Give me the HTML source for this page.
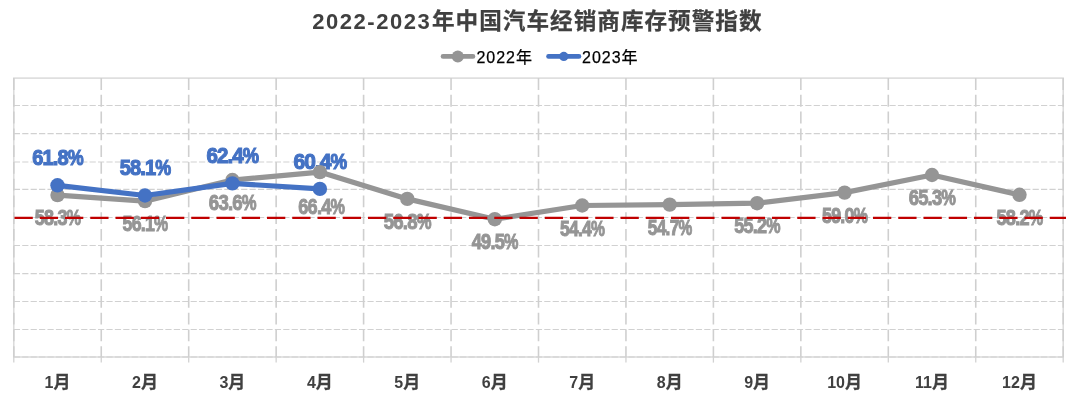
<!DOCTYPE html>
<html lang="zh-CN"><head><meta charset="utf-8">
<title>2022-2023年中国汽车经销商库存预警指数</title>
<style>
html,body{margin:0;padding:0;background:#fff;}
body{width:1080px;height:411px;overflow:hidden;font-family:"Liberation Sans","Noto Sans CJK SC",sans-serif;}
svg{display:block;}
.title{font-family:"Liberation Sans","Noto Sans CJK SC",sans-serif;font-weight:700;font-size:22px;letter-spacing:1.55px;fill:#404040;}
.tcjk{font-size:22.6px;letter-spacing:1.02px;stroke:#404040;stroke-width:.25px;}
.leg{font-family:"Liberation Sans","Noto Sans CJK SC",sans-serif;font-size:16px;letter-spacing:.95px;fill:#000;stroke:#000;stroke-width:.25px;}
.ax{font-family:"Liberation Sans","Noto Sans CJK SC",sans-serif;font-weight:700;font-size:16px;fill:#404040;text-anchor:middle;}
.acjk{font-size:17px;stroke:#404040;stroke-width:.3px;}
.lb{font-family:"Liberation Sans",sans-serif;font-weight:700;text-anchor:middle;stroke-linejoin:miter;}
.b{font-size:22.9px;letter-spacing:-1px;fill:#4472c4;stroke:#4472c4;stroke-width:1.2px;}
.g{font-size:21.6px;letter-spacing:-.9px;fill:#959595;stroke:#959595;stroke-width:1px;}
</style></head><body>
<svg width="1080" height="411" viewBox="0 0 1080 411">
<rect width="1080" height="411" fill="#fff"/>
<text class="title" x="312.2" y="28.8">2022-2023<tspan class="tcjk" dx="0.6">年中国汽车经销商库存预警指数</tspan></text>
<g>
<line x1="443" y1="56.4" x2="473" y2="56.4" stroke="#959595" stroke-width="4.6" stroke-linecap="round"/>
<circle cx="457.8" cy="56.4" r="6" fill="#959595"/>
<text class="leg" x="476.5" y="62.8">2022年</text>
<line x1="548.5" y1="56.4" x2="579" y2="56.4" stroke="#4472c4" stroke-width="4.6" stroke-linecap="round"/>
<circle cx="563.8" cy="56.4" r="4.6" fill="#4472c4"/>
<text class="leg" x="582.1" y="62.8">2023年</text>
</g>
<g fill="none" stroke="#cdcdcd">
<rect x="13.8" y="78.1" width="1049.4" height="278.9" stroke="#dadada" stroke-width="1.5"/>
<line x1="13.8" y1="105.50" x2="1063.2" y2="105.50" stroke-width="1.2" stroke="#d1d1d1" stroke-dasharray="6.2 2.22"/>
<line x1="13.8" y1="133.60" x2="1063.2" y2="133.60" stroke-width="1.2" stroke="#d1d1d1" stroke-dasharray="6.2 2.22"/>
<line x1="13.8" y1="162.00" x2="1063.2" y2="162.00" stroke-width="1.2" stroke="#d1d1d1" stroke-dasharray="6.2 2.22"/>
<line x1="13.8" y1="189.40" x2="1063.2" y2="189.40" stroke-width="1.2" stroke="#d1d1d1" stroke-dasharray="6.2 2.22"/>
<line x1="13.8" y1="217.50" x2="1063.2" y2="217.50" stroke-width="1.2" stroke="#d1d1d1" stroke-dasharray="6.2 2.22"/>
<line x1="13.8" y1="245.50" x2="1063.2" y2="245.50" stroke-width="1.2" stroke="#d1d1d1" stroke-dasharray="6.2 2.22"/>
<line x1="13.8" y1="273.60" x2="1063.2" y2="273.60" stroke-width="1.2" stroke="#d1d1d1" stroke-dasharray="6.2 2.22"/>
<line x1="13.8" y1="301.50" x2="1063.2" y2="301.50" stroke-width="1.2" stroke="#d1d1d1" stroke-dasharray="6.2 2.22"/>
<line x1="13.8" y1="329.50" x2="1063.2" y2="329.50" stroke-width="1.2" stroke="#d1d1d1" stroke-dasharray="6.2 2.22"/>
<line x1="13.8" y1="357.00" x2="1063.2" y2="357.00" stroke-width="1.2" stroke="#d1d1d1" stroke-dasharray="6.2 2.22"/>
<line x1="13.80" y1="78.1" x2="13.80" y2="357" stroke-width="1.6" stroke="#cfcfcf" stroke-dasharray="11.8 4.96"/>
<line x1="13.80" y1="357" x2="13.80" y2="362.6" stroke-width="1.3" stroke="#d2d2d2"/>
<line x1="101.25" y1="78.1" x2="101.25" y2="357" stroke-width="1.6" stroke="#cfcfcf" stroke-dasharray="11.8 4.96"/>
<line x1="101.25" y1="357" x2="101.25" y2="362.6" stroke-width="1.3" stroke="#d2d2d2"/>
<line x1="188.70" y1="78.1" x2="188.70" y2="357" stroke-width="1.6" stroke="#cfcfcf" stroke-dasharray="11.8 4.96"/>
<line x1="188.70" y1="357" x2="188.70" y2="362.6" stroke-width="1.3" stroke="#d2d2d2"/>
<line x1="276.15" y1="78.1" x2="276.15" y2="357" stroke-width="1.6" stroke="#cfcfcf" stroke-dasharray="11.8 4.96"/>
<line x1="276.15" y1="357" x2="276.15" y2="362.6" stroke-width="1.3" stroke="#d2d2d2"/>
<line x1="363.60" y1="78.1" x2="363.60" y2="357" stroke-width="1.6" stroke="#cfcfcf" stroke-dasharray="11.8 4.96"/>
<line x1="363.60" y1="357" x2="363.60" y2="362.6" stroke-width="1.3" stroke="#d2d2d2"/>
<line x1="451.05" y1="78.1" x2="451.05" y2="357" stroke-width="1.6" stroke="#cfcfcf" stroke-dasharray="11.8 4.96"/>
<line x1="451.05" y1="357" x2="451.05" y2="362.6" stroke-width="1.3" stroke="#d2d2d2"/>
<line x1="538.50" y1="78.1" x2="538.50" y2="357" stroke-width="1.6" stroke="#cfcfcf" stroke-dasharray="11.8 4.96"/>
<line x1="538.50" y1="357" x2="538.50" y2="362.6" stroke-width="1.3" stroke="#d2d2d2"/>
<line x1="625.95" y1="78.1" x2="625.95" y2="357" stroke-width="1.6" stroke="#cfcfcf" stroke-dasharray="11.8 4.96"/>
<line x1="625.95" y1="357" x2="625.95" y2="362.6" stroke-width="1.3" stroke="#d2d2d2"/>
<line x1="713.40" y1="78.1" x2="713.40" y2="357" stroke-width="1.6" stroke="#cfcfcf" stroke-dasharray="11.8 4.96"/>
<line x1="713.40" y1="357" x2="713.40" y2="362.6" stroke-width="1.3" stroke="#d2d2d2"/>
<line x1="800.85" y1="78.1" x2="800.85" y2="357" stroke-width="1.6" stroke="#cfcfcf" stroke-dasharray="11.8 4.96"/>
<line x1="800.85" y1="357" x2="800.85" y2="362.6" stroke-width="1.3" stroke="#d2d2d2"/>
<line x1="888.30" y1="78.1" x2="888.30" y2="357" stroke-width="1.6" stroke="#cfcfcf" stroke-dasharray="11.8 4.96"/>
<line x1="888.30" y1="357" x2="888.30" y2="362.6" stroke-width="1.3" stroke="#d2d2d2"/>
<line x1="975.75" y1="78.1" x2="975.75" y2="357" stroke-width="1.6" stroke="#cfcfcf" stroke-dasharray="11.8 4.96"/>
<line x1="975.75" y1="357" x2="975.75" y2="362.6" stroke-width="1.3" stroke="#d2d2d2"/>
<line x1="1063.20" y1="78.1" x2="1063.20" y2="357" stroke-width="1.6" stroke="#cfcfcf" stroke-dasharray="11.8 4.96"/>
<line x1="1063.20" y1="357" x2="1063.20" y2="362.6" stroke-width="1.3" stroke="#d2d2d2"/>
</g>
<g>
<text class="lb b" transform="translate(57.5 164.7) scale(0.875 1)">61.8<tspan textLength="17.3" lengthAdjust="spacingAndGlyphs">%</tspan></text>
<text class="lb b" transform="translate(145.0 175.0) scale(0.875 1)">58.1<tspan textLength="17.3" lengthAdjust="spacingAndGlyphs">%</tspan></text>
<text class="lb b" transform="translate(232.4 163.0) scale(0.895 1)">62.4<tspan textLength="17.3" lengthAdjust="spacingAndGlyphs">%</tspan></text>
<text class="lb b" transform="translate(319.9 168.6) scale(0.915 1)">60.4<tspan textLength="17.3" lengthAdjust="spacingAndGlyphs">%</tspan></text>
</g>
<polyline points="57.5,195.1 145.0,201.1 232.4,180.0 319.9,172.1 407.3,198.9 494.8,219.2 582.2,205.5 669.7,204.6 757.1,203.2 844.6,192.6 932.0,175.0 1019.5,194.8" fill="none" stroke="#959595" stroke-width="5.2" stroke-linejoin="round" stroke-linecap="round"/>
<g fill="#959595">
<circle cx="57.5" cy="195.1" r="7.2"/>
<circle cx="145.0" cy="201.1" r="7.2"/>
<circle cx="232.4" cy="180.0" r="7.2"/>
<circle cx="319.9" cy="172.1" r="7.2"/>
<circle cx="407.3" cy="198.9" r="7.2"/>
<circle cx="494.8" cy="219.2" r="7.2"/>
<circle cx="582.2" cy="205.5" r="7.2"/>
<circle cx="669.7" cy="204.6" r="7.2"/>
<circle cx="757.1" cy="203.2" r="7.2"/>
<circle cx="844.6" cy="192.6" r="7.2"/>
<circle cx="932.0" cy="175.0" r="7.2"/>
<circle cx="1019.5" cy="194.8" r="7.2"/>
</g>
<g>
<text class="lb g" transform="translate(57.5 224.6) scale(0.830 1)">58.3<tspan textLength="16.4" lengthAdjust="spacingAndGlyphs">%</tspan></text>
<text class="lb g" transform="translate(145.0 230.7) scale(0.820 1)">56.1<tspan textLength="16.4" lengthAdjust="spacingAndGlyphs">%</tspan></text>
<text class="lb g" transform="translate(232.4 209.7) scale(0.860 1)">63.6<tspan textLength="16.4" lengthAdjust="spacingAndGlyphs">%</tspan></text>
<text class="lb g" transform="translate(321.3 214.4) scale(0.840 1)">66.4<tspan textLength="16.4" lengthAdjust="spacingAndGlyphs">%</tspan></text>
<text class="lb g" transform="translate(407.3 228.8) scale(0.860 1)">56.8<tspan textLength="16.4" lengthAdjust="spacingAndGlyphs">%</tspan></text>
<text class="lb g" transform="translate(494.8 249.2) scale(0.840 1)">49.5<tspan textLength="16.4" lengthAdjust="spacingAndGlyphs">%</tspan></text>
<text class="lb g" transform="translate(582.2 235.5) scale(0.810 1)">54.4<tspan textLength="16.4" lengthAdjust="spacingAndGlyphs">%</tspan></text>
<text class="lb g" transform="translate(669.7 234.6) scale(0.800 1)">54.7<tspan textLength="16.4" lengthAdjust="spacingAndGlyphs">%</tspan></text>
<text class="lb g" transform="translate(757.1 233.2) scale(0.830 1)">55.2<tspan textLength="16.4" lengthAdjust="spacingAndGlyphs">%</tspan></text>
<text class="lb g" transform="translate(844.6 222.6) scale(0.825 1)">59.0<tspan textLength="16.4" lengthAdjust="spacingAndGlyphs">%</tspan></text>
<text class="lb g" transform="translate(932.0 205.0) scale(0.850 1)">65.3<tspan textLength="16.4" lengthAdjust="spacingAndGlyphs">%</tspan></text>
<text class="lb g" transform="translate(1019.5 224.8) scale(0.840 1)">58.2<tspan textLength="16.4" lengthAdjust="spacingAndGlyphs">%</tspan></text>
</g>
<polyline points="57.5,185.3 145.0,195.5 232.4,183.4 319.9,188.9" fill="none" stroke="#4472c4" stroke-width="5.2" stroke-linejoin="round" stroke-linecap="round"/>
<g fill="#4472c4">
<circle cx="57.5" cy="185.3" r="7.2"/>
<circle cx="145.0" cy="195.5" r="7.2"/>
<circle cx="232.4" cy="183.4" r="7.2"/>
<circle cx="319.9" cy="188.9" r="7.2"/>
</g>
<line x1="14.5" y1="217.95" x2="1066" y2="217.95" stroke="#c00000" stroke-width="2.3" stroke-dasharray="18.3 6.95"/>
<g>
<text class="ax" x="57.5" y="387.8">1<tspan class="acjk">月</tspan></text>
<text class="ax" x="145.0" y="387.8">2<tspan class="acjk">月</tspan></text>
<text class="ax" x="232.4" y="387.8">3<tspan class="acjk">月</tspan></text>
<text class="ax" x="319.9" y="387.8">4<tspan class="acjk">月</tspan></text>
<text class="ax" x="407.3" y="387.8">5<tspan class="acjk">月</tspan></text>
<text class="ax" x="494.8" y="387.8">6<tspan class="acjk">月</tspan></text>
<text class="ax" x="582.2" y="387.8">7<tspan class="acjk">月</tspan></text>
<text class="ax" x="669.7" y="387.8">8<tspan class="acjk">月</tspan></text>
<text class="ax" x="757.1" y="387.8">9<tspan class="acjk">月</tspan></text>
<text class="ax" x="844.6" y="387.8">10<tspan class="acjk">月</tspan></text>
<text class="ax" x="932.0" y="387.8">11<tspan class="acjk">月</tspan></text>
<text class="ax" x="1019.5" y="387.8">12<tspan class="acjk">月</tspan></text>
</g>
</svg></body></html>
